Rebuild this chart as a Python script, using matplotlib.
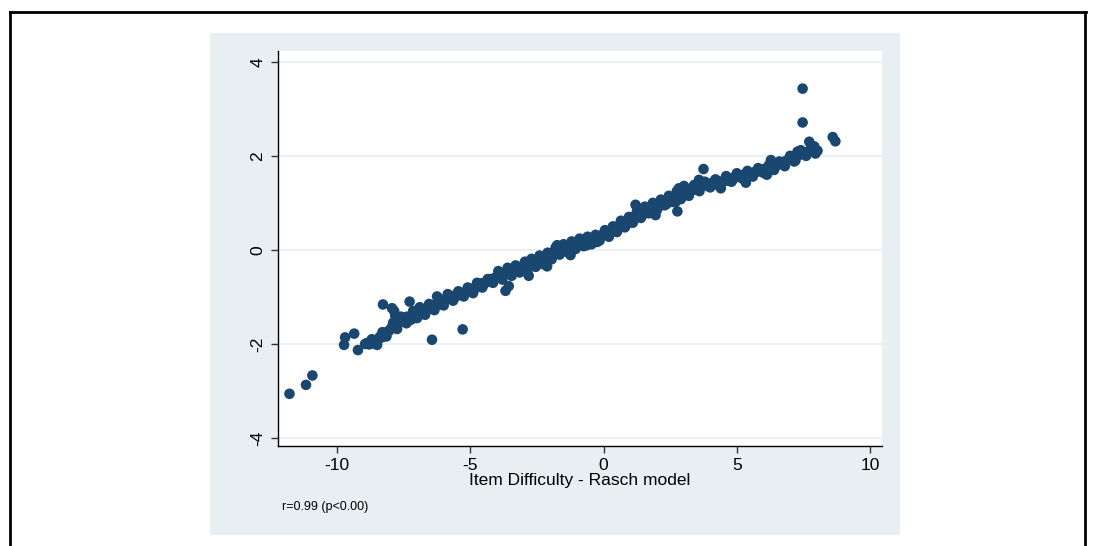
import matplotlib.pyplot as plt
from matplotlib.lines import Line2D
from matplotlib.patches import Rectangle

plt.rcParams["font.family"] = ["Liberation Sans", "DejaVu Sans"]

# item difficulty estimates: Rasch model (x) against the alternative model (y)
rasch = [
    -11.79, -11.17, -10.93, -9.74, -9.70, -9.36, -9.22,
    -8.95, -8.88, -8.80, -8.72, -8.65, -8.60, -8.52, -8.45, -8.40, -8.33, -8.28, -8.25, -8.20, -8.12, -8.05,
    -7.97, -7.94, -7.90, -7.86, -7.82, -7.78, -7.70, -7.65, -7.58, -7.50, -7.45, -7.38, -7.30, -7.28, -7.26,
    -7.20, -7.19, -7.12, -7.05,
    -6.98, -6.92, -6.85, -6.80, -6.72, -6.65, -6.60, -6.52, -6.44, -6.40, -6.33, -6.25, -6.20, -6.13, -6.05,
    -5.96, -5.90, -5.82, -5.75, -5.68, -5.60, -5.56, -5.48, -5.40, -5.31, -5.29, -5.22, -5.15, -5.06,
    -4.98, -4.92, -4.85, -4.78, -4.70, -4.59, -4.50, -4.40, -4.30, -4.25, -4.18, -4.10, -4.03,
    -3.97, -3.92, -3.87, -3.82, -3.76, -3.70, -3.68, -3.64, -3.58, -3.56, -3.50, -3.44, -3.38, -3.33, -3.27,
    -3.20, -3.15, -3.10, -3.04,
    -2.97, -2.92, -2.86, -2.81, -2.78, -2.72, -2.66, -2.60, -2.55, -2.50, -2.44, -2.38, -2.33, -2.27, -2.20,
    -2.15, -2.12, -2.06, -2.02,
    -1.97, -1.92, -1.86, -1.80, -1.74, -1.68, -1.62, -1.55, -1.50, -1.43, -1.37, -1.30, -1.24, -1.18, -1.12, -1.05,
    -0.98, -0.93, -0.87, -0.82, -0.75, -0.70, -0.63, -0.58, -0.50, -0.44, -0.38, -0.30, -0.24, -0.18, -0.12, -0.05,
    0.02, 0.08, 0.14, 0.20, 0.26, 0.33, 0.40, 0.46, 0.52, 0.60, 0.66, 0.72, 0.80, 0.86, 0.93,
    1.00, 1.06, 1.12, 1.20, 1.26, 1.33, 1.40, 1.46, 1.52, 1.60, 1.66, 1.72, 1.80, 1.86, 1.95,
    2.02, 2.08, 2.15, 2.22, 2.30, 2.37, 2.44, 2.50, 2.57, 2.64, 2.70, 2.77, 2.83, 2.90, 2.97,
    3.02, 3.08, 3.15, 3.22, 3.30, 3.38, 3.45, 3.52, 3.58, 3.65, 3.75, 3.82, 3.90, 3.97,
    4.04, 4.10, 4.18, 4.26, 4.33, 4.40, 4.47, 4.55, 4.62, 4.70, 4.78, 4.86, 4.94,
    5.02, 5.10, 5.18, 5.26, 5.34, 5.40, 5.48, 5.56, 5.64, 5.72, 5.80, 5.88, 5.95,
    6.03, 6.09, 6.13, 6.20, 6.28, 6.35, 6.42, 6.50, 6.58, 6.65, 6.72, 6.80, 6.88, 6.95,
    7.02, 7.10, 7.15, 7.22, 7.28, 7.35, 7.42, 7.47, 7.47, 7.55, 7.62, 7.72, 7.72, 7.80, 7.86, 7.91, 7.97, 8.03,
    8.60, 8.70,
    -8.70, -8.50, -8.30, -8.15, -7.90, -7.75, -7.60, -7.40, -7.15, -7.00, -6.90, -6.70, -6.55, -6.35, -6.15,
    -6.00, -5.85, -5.65, -5.45, -5.25, -5.10, -4.90, -4.75, -4.55, -4.35, -4.15, -3.95, -3.80, -3.60, -3.45,
    -3.30, -3.15, -2.95, -2.85, -2.70, -2.55, -2.40, -2.25, -2.10, -1.95, -1.80, -1.65, -1.50, -1.35, -1.20,
    -1.05, -0.90, -0.75, -0.60, -0.45, -0.30, -0.15, 0.05, 0.20, 0.35, 0.50, 0.65, 0.80, 0.95, 1.10,
    1.25, 1.40, 1.55, 1.70, 1.85, 2.00, 2.15, 2.30, 2.45, 2.60, 2.75, 2.90, 3.05, 3.20, 3.40,
    3.60, 3.80, 4.00, 4.20, 4.40, 4.60, 4.80, 5.00, 5.20, 5.40, 5.60, 5.80, 6.00, 6.20, 6.40,
    6.60, 6.80, 7.00, 7.20, 7.40, 7.60, 7.80, 7.95,
]
other = [
    -3.06, -2.87, -2.67, -2.02, -1.86, -1.78, -2.13,
    -2.00, -1.98, -2.01, -1.97, -1.99, -1.94, -1.92, -1.90, -1.85, -1.86, -1.16, -1.80, -1.78, -1.74, -1.72,
    -1.66, -1.24, -1.62, -1.30, -1.40, -1.60, -1.55, -1.50, -1.52, -1.46, -1.48, -1.42, -1.44, -1.10, -1.49,
    -1.40, -1.47, -1.38, -1.36,
    -1.33, -1.37, -1.30, -1.31, -1.28, -1.24, -1.27, -1.20, -1.91, -1.22, -1.16, -0.99, -1.17, -1.12, -1.10,
    -1.06, -1.04, -1.01, -1.00, -0.99, -1.02, -0.96, -0.97, -0.93, -0.96, -1.69, -0.91, -0.90, -0.89,
    -0.86, -0.82, -0.84, -0.79, -0.76, -0.71, -0.73, -0.69, -0.66, -0.62, -0.64, -0.60, -0.58,
    -0.55, -0.53, -0.52, -0.56, -0.50, -0.48, -0.87, -0.50, -0.45, -0.77, -0.47, -0.43, -0.44, -0.40, -0.42,
    -0.38, -0.40, -0.36, -0.37,
    -0.34, -0.31, -0.33, -0.55, -0.28, -0.30, -0.26, -0.27, -0.22, -0.25, -0.30, -0.20, -0.18, -0.22, -0.16,
    -0.19, -0.35, -0.12, -0.14,
    -0.08, -0.06, -0.09, -0.04, 0.10, -0.02, 0.00, -0.03, 0.04, 0.02, 0.05, 0.06, -0.11, 0.08, 0.10, 0.11,
    0.17, 0.13, 0.15, 0.14, 0.18, 0.16, 0.10, 0.20, 0.21, 0.19, 0.24, 0.22, 0.17, 0.28, 0.30, 0.31,
    0.34, 0.32, 0.38, 0.36, 0.42, 0.40, 0.46, 0.43, 0.50, 0.47, 0.55, 0.52, 0.58, 0.60, 0.57,
    0.64, 0.66, 0.70, 0.96, 0.72, 0.76, 0.80, 0.74, 0.84, 0.82, 0.88, 0.85, 0.90, 0.93, 0.74,
    0.95, 0.92, 0.98, 1.00, 1.04, 0.98, 1.08, 1.05, 1.10, 1.12, 1.02, 0.82, 1.31, 1.15, 1.18,
    1.36, 1.20, 1.24, 1.22, 1.26, 1.30, 1.28, 1.33, 1.49, 1.35, 1.72, 1.38, 1.36, 1.40,
    1.42, 1.38, 1.44, 1.41, 1.46, 1.31, 1.44, 1.48, 1.50, 1.47, 1.52, 1.50, 1.55,
    1.56, 1.58, 1.55, 1.60, 1.43, 1.60, 1.63, 1.62, 1.65, 1.66, 1.68, 1.67, 1.70,
    1.72, 1.62, 1.60, 1.74, 1.91, 1.76, 1.78, 1.80, 1.82, 1.85, 1.84, 1.88, 1.90, 1.93,
    1.95, 1.98, 1.88, 2.00, 2.09, 2.02, 2.05, 3.43, 2.71, 2.04, 2.08, 2.30, 2.10, 2.15, 2.12, 2.20, 2.08, 2.11,
    2.40, 2.31,
    -1.90, -2.02, -1.75, -1.84, -1.55, -1.68, -1.42, -1.56, -1.30, -1.45, -1.22, -1.38, -1.15, -1.28, -1.05,
    -1.18, -0.94, -1.08, -0.88, -0.99, -0.80, -0.92, -0.70, -0.80, -0.62, -0.70, -0.45, -0.63, -0.38, -0.55,
    -0.33, -0.48, -0.25, -0.42, -0.19, -0.36, -0.12, -0.30, -0.06, -0.20, 0.05, -0.10, 0.12, -0.05, 0.18,
    0.02, 0.24, 0.08, 0.28, 0.12, 0.32, 0.20, 0.42, 0.28, 0.50, 0.38, 0.62, 0.48, 0.70, 0.58,
    0.82, 0.68, 0.92, 0.78, 1.00, 0.85, 1.07, 0.95, 1.15, 1.02, 1.25, 1.08, 1.30, 1.15, 1.38,
    1.25, 1.45, 1.33, 1.50, 1.40, 1.57, 1.45, 1.63, 1.52, 1.68, 1.56, 1.74, 1.64, 1.80, 1.70,
    1.88, 1.78, 2.00, 1.90, 2.12, 2.00, 2.22, 2.05,
]

x_ticks = [-10, -5, 0, 5, 10]
y_ticks = [-4, -2, 0, 2, 4]
x_title = "Item Difficulty - Rasch model"
note = "r=0.99 (p<0.00)"

navy = "#1a476f"
region = "#e8eef1"

fig = plt.figure(figsize=(10.94, 5.46), dpi=100)

# outer frame and graph region
for xs, ys in [([0.009, 0.993], [0.978, 0.978]),
               ([0.009, 0.009], [0.0, 0.978]),
               ([0.992, 0.992], [0.0, 0.978])]:
    fig.add_artist(Line2D(xs, ys, transform=fig.transFigure, color="black", lw=2))
fig.add_artist(Rectangle((210 / 1094, 1 - 535 / 546), 690 / 1094, 502 / 546,
                         transform=fig.transFigure, facecolor=region, edgecolor="none", zorder=0))

ax = fig.add_axes([278 / 1094, 1 - 446 / 546, 604 / 1094, 395 / 546])
ax.set_facecolor("white")
ax.scatter(rasch, other, s=58, color=navy, edgecolors="none", zorder=3)

ax.set_xlim(-12.22, 10.45)
ax.set_ylim(-4.17, 4.23)
ax.set_xticks(x_ticks)
ax.set_yticks(y_ticks)
ax.set_xticklabels([str(v) for v in x_ticks], fontsize=12.5)
ax.set_yticklabels([str(v) for v in y_ticks], fontsize=12.5, rotation=90, va="center")
ax.tick_params(direction="out", length=5, width=1, color="#333333", pad=4)
ax.grid(axis="y", color="#e6eef2", lw=1.2, zorder=0)
ax.set_axisbelow(True)

for side in ["top", "right"]:
    ax.spines[side].set_visible(False)
for side in ["left", "bottom"]:
    ax.spines[side].set_linewidth(1)
    ax.spines[side].set_color("black")

ax.set_xlabel(x_title, fontsize=12.5, labelpad=0)
fig.text(282 / 1094, 1 - 507 / 546, note, fontsize=9, va="center", ha="left")

fig.savefig("out.png", dpi=100)
